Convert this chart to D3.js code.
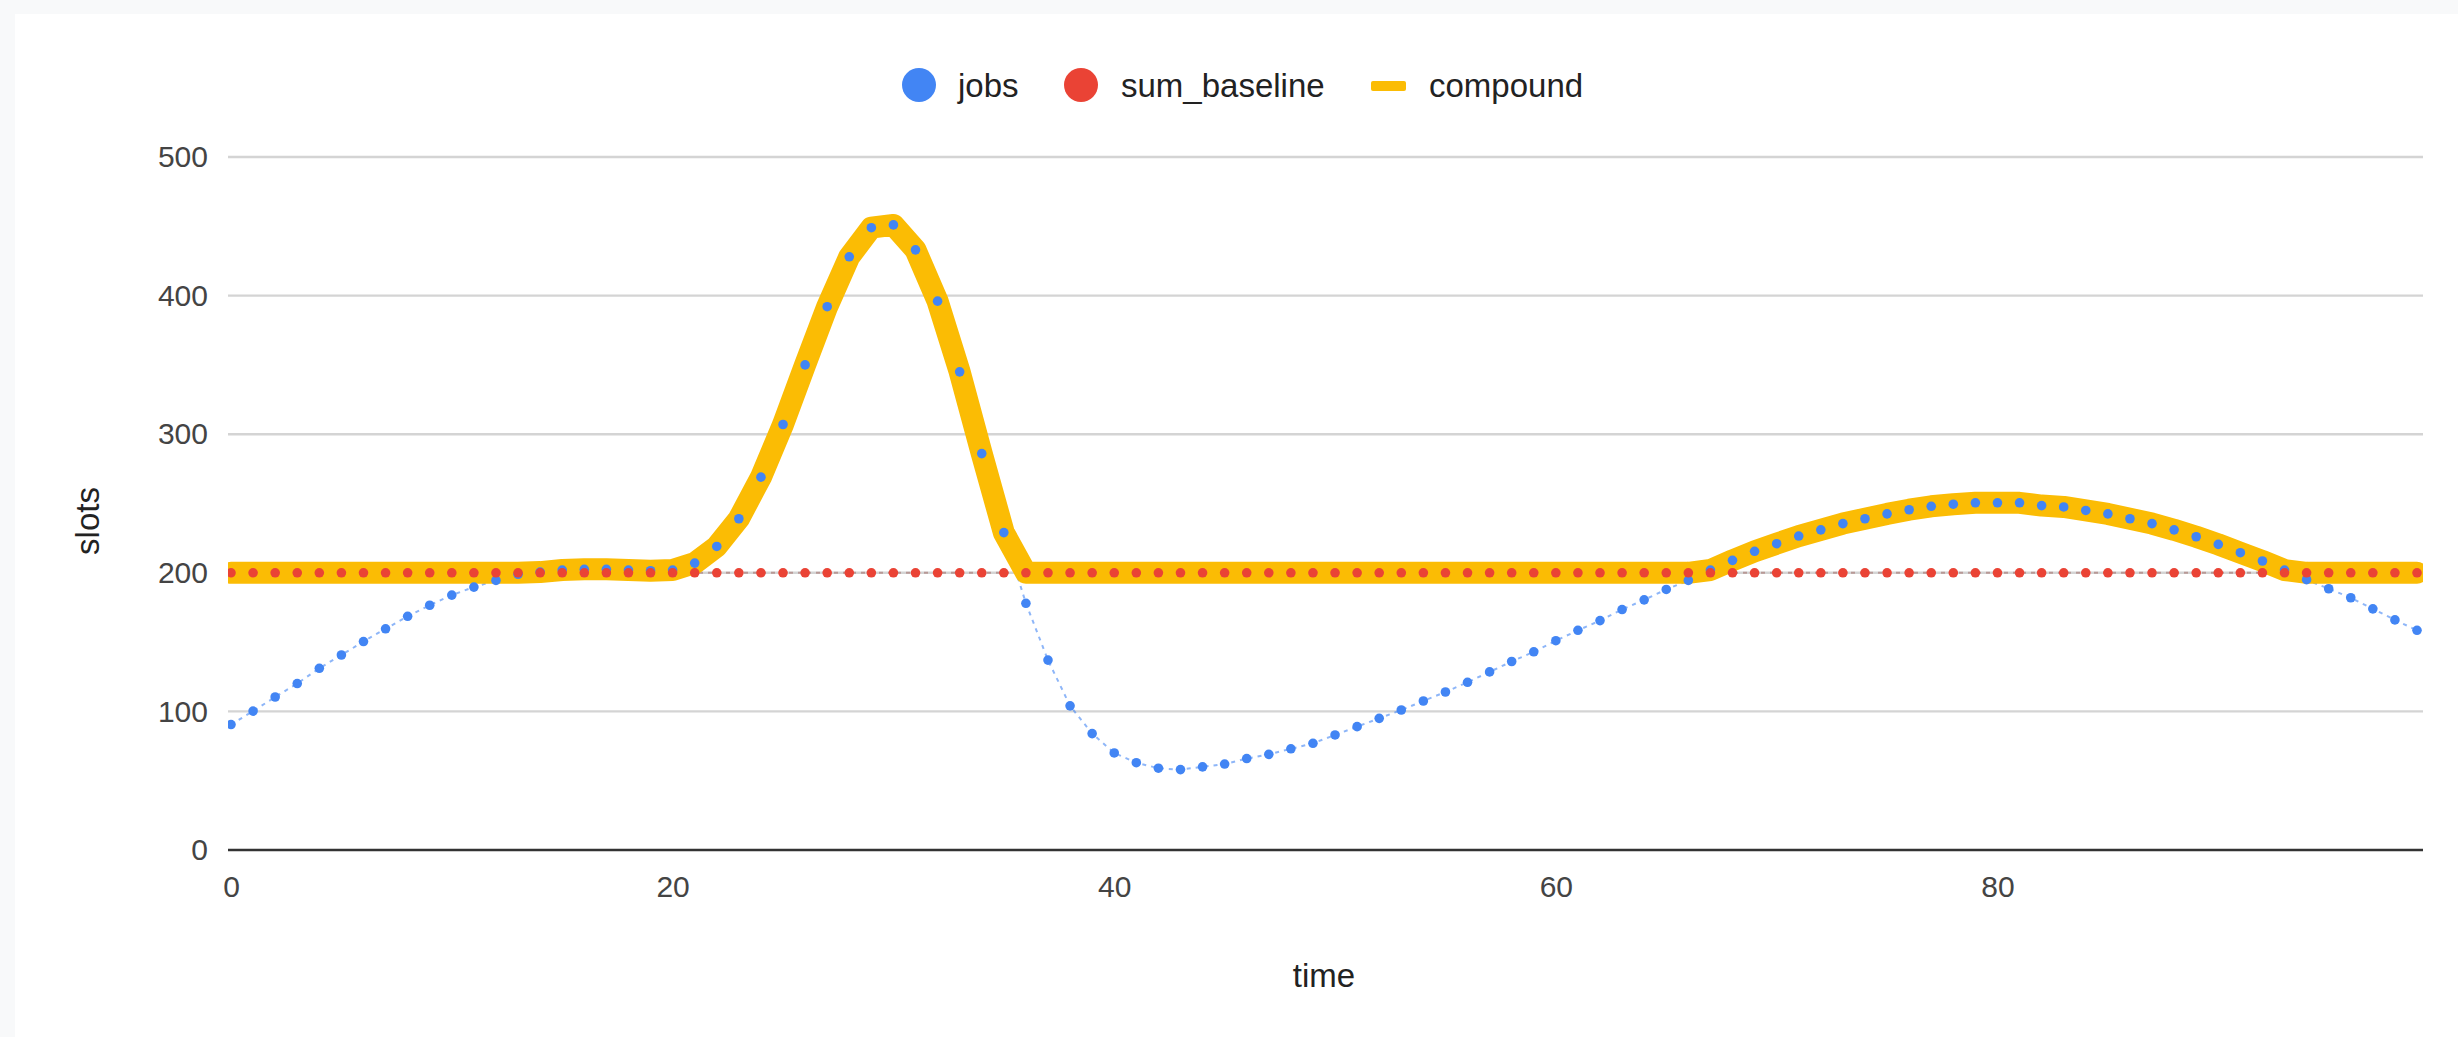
<!DOCTYPE html>
<html>
<head>
<meta charset="utf-8">
<script src="https://cdn.jsdelivr.net/npm/d3@7"></script>
<style>
  html, body { margin: 0; padding: 0; background: #f8f9fa; }
  svg { display: block; font-family: Arial, "Liberation Sans", sans-serif; }
</style>
</head>
<body>
<script>
// ---------------- data ----------------
const time = [0,1,2,3,4,5,6,7,8,9,10,11,12,13,14,15,16,17,18,19,20,21,22,23,24,25,26,27,28,29,
  30,31,32,33,34,35,36,37,38,39,40,41,42,43,44,45,46,47,48,49,50,51,52,53,54,55,56,57,58,59,
  60,61,62,63,64,65,66,67,68,69,70,71,72,73,74,75,76,77,78,79,80,81,82,83,84,85,86,87,88,89,
  90,91,92,93,94,95,96,97,98,99];

const jobs = [90.5,100.2,110.4,120.1,131.1,140.7,150.4,159.6,168.6,176.6,
  183.9,189.7,194.5,198.9,200.5,202,202.5,202.5,202,201.5,
  202,207,219,239,269,307,350,392,428,449,
  451,433,396,345,286,229,178,137,104,84,
  70,63,59,58,60,62,66,69,73,77,
  83,89,95,101,107.5,114,121,128.5,136,143,
  151,158.5,165.5,173.5,180.5,188,194.5,202,209,215.5,
  221,226.5,231,235.5,239,242.5,245.5,248,249.5,250.5,
  250.5,250.5,248.5,247.5,245,242.5,239,235.5,231,226,
  220.5,214.5,208.5,202,195,188.5,182,174,166,158.5];

const sumBaseline = [200,200,200,200,200,200,200,200,200,200,
  200,200,200,200,200,200,200,200,200,200,
  200,200,200,200,200,200,200,200,200,200,
  200,200,200,200,200,200,200,200,200,200,
  200,200,200,200,200,200,200,200,200,200,
  200,200,200,200,200,200,200,200,200,200,
  200,200,200,200,200,200,200,200,200,200,
  200,200,200,200,200,200,200,200,200,200,
  200,200,200,200,200,200,200,200,200,200,
  200,200,200,200,200,200,200,200,200,200];

const compound = [200,200,200,200,200,200,200,200,200,200,
  200,200,200,200,200.5,202,202.5,202.5,202,201.5,
  202,207,219,239,269,307,350,392,428,449,
  451,433,396,345,286,229,200,200,200,200,
  200,200,200,200,200,200,200,200,200,200,
  200,200,200,200,200,200,200,200,200,200,
  200,200,200,200,200,200,200,202,209,215.5,
  221,226.5,231,235.5,239,242.5,245.5,248,249.5,250.5,
  250.5,250.5,248.5,247.5,245,242.5,239,235.5,231,226,
  220.5,214.5,208.5,202,200,200,200,200,200,200];

const seriesNames = ["jobs", "sum_baseline", "compound"];
const seriesColors = ["#4285F4", "#EA4335", "#FBBC04"];
const xTicks = [0, 20, 40, 60, 80];
const yTicks = [0, 100, 200, 300, 400, 500];
const xTitle = "time";
const yTitle = "slots";

// ---------------- layout ----------------
const W = 2458, H = 1037;
const svg = d3.select("body").append("svg").attr("width", W).attr("height", H);

svg.append("rect").attr("x", 15).attr("y", 14).attr("width", W).attr("height", H)
  .attr("fill", "#ffffff");

const x = d3.scaleLinear().domain([0, 99]).range([231, 2417]);
const y = d3.scaleLinear().domain([0, 500]).range([850, 157]);
const gx0 = 228, gx1 = 2423;

// clip for the plot area
svg.append("defs").append("clipPath").attr("id", "plotclip")
  .append("rect").attr("x", gx0).attr("y", 100).attr("width", gx1 - gx0).attr("height", 760);

// gridlines
svg.append("g").selectAll("line").data(yTicks.filter(d => d !== 0)).join("line")
  .attr("x1", gx0).attr("x2", gx1)
  .attr("y1", d => y(d)).attr("y2", d => y(d))
  .attr("stroke", "#d4d4d4").attr("stroke-width", 2.4);

// axes (labels)
const yAxis = svg.append("g").attr("transform", `translate(${gx0 + 1},0)`)
  .call(d3.axisLeft(y).tickValues(yTicks).tickSize(0).tickPadding(21));
const xAxis = svg.append("g").attr("transform", `translate(0,${y(0)})`)
  .call(d3.axisBottom(x).tickValues(xTicks).tickSize(0).tickPadding(26).tickFormat(d3.format("d")));
[yAxis, xAxis].forEach(a => {
  a.select(".domain").remove();
  a.selectAll("text").attr("font-size", 30).attr("fill", "#444")
    .attr("font-family", 'Arial, "Liberation Sans", sans-serif');
});

// lines
const line = d3.line().x((d, i) => x(time[i])).y(d => y(d));
const plot = svg.append("g").attr("clip-path", "url(#plotclip)");

plot.append("path").datum(jobs).attr("d", line)
  .attr("fill", "none").attr("stroke", seriesColors[0]).attr("stroke-opacity", 0.6)
  .attr("stroke-width", 2).attr("stroke-dasharray", "4,5");
plot.append("path").datum(sumBaseline).attr("d", line)
  .attr("fill", "none").attr("stroke", "#b08a86").attr("stroke-opacity", 0.8)
  .attr("stroke-width", 2).attr("stroke-dasharray", "4,5");
plot.append("path").datum(compound).attr("d", line)
  .attr("fill", "none").attr("stroke", seriesColors[2])
  .attr("stroke-width", 22).attr("stroke-linejoin", "round").attr("stroke-linecap", "round");

// baseline at zero
svg.append("line").attr("x1", gx0).attr("x2", gx1)
  .attr("y1", y(0)).attr("y2", y(0))
  .attr("stroke", "#333").attr("stroke-width", 2.6);

// points
plot.append("g").selectAll("circle").data(jobs).join("circle")
  .attr("cx", (d, i) => x(time[i])).attr("cy", d => y(d)).attr("r", 4.8)
  .attr("fill", seriesColors[0]);
plot.append("g").selectAll("circle").data(sumBaseline).join("circle")
  .attr("cx", (d, i) => x(time[i])).attr("cy", d => y(d)).attr("r", 4.8)
  .attr("fill", seriesColors[1]);

// axis titles
svg.append("text").attr("x", (x(0) + x(99)) / 2).attr("y", 987)
  .attr("text-anchor", "middle").attr("font-size", 33).attr("fill", "#222").text(xTitle);
svg.append("text").attr("transform", "translate(99,521) rotate(-90)")
  .attr("text-anchor", "middle").attr("font-size", 33).attr("fill", "#222").text(yTitle);

// legend
const legendX = [919, 1081, 1388];
const legendTextX = [958, 1121, 1429];
const lg = svg.append("g");
seriesNames.forEach((name, i) => {
  if (i < 2) {
    lg.append("circle").attr("cx", legendX[i]).attr("cy", 85).attr("r", 17)
      .attr("fill", seriesColors[i]);
  } else {
    lg.append("rect").attr("x", legendX[i] - 17).attr("y", 81).attr("width", 35).attr("height", 10)
      .attr("rx", 2).attr("fill", seriesColors[i]);
  }
  lg.append("text").attr("x", legendTextX[i]).attr("y", 97)
    .attr("font-size", 33).attr("fill", "#222").text(name);
});
</script>
</body>
</html>
